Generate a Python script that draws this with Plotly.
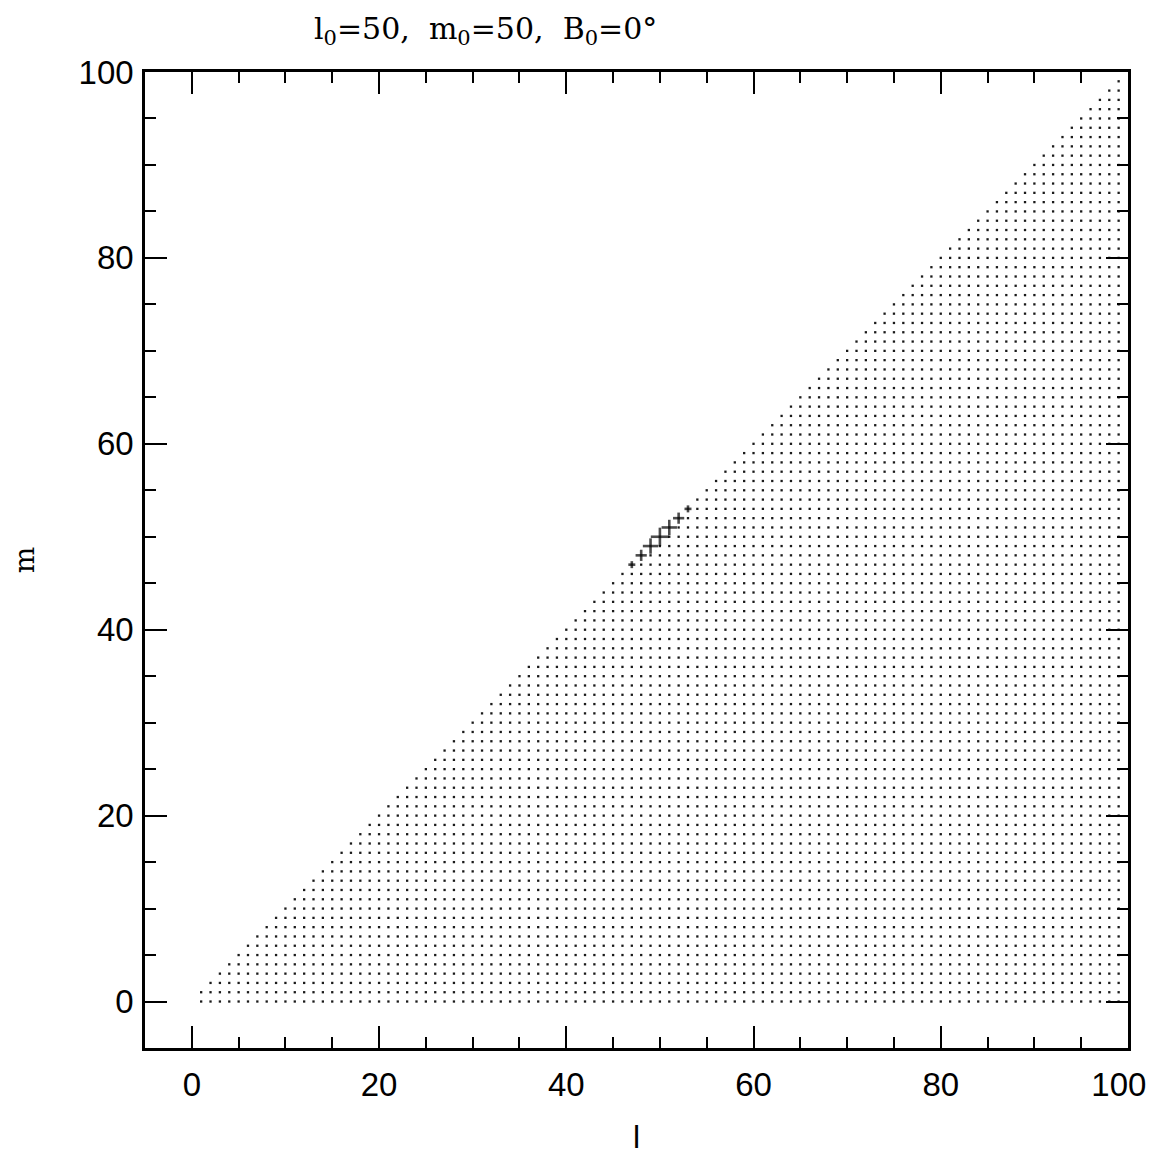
import plotly.graph_objects as go

# Grid of (l, m) modes shown as dots
l_values = list(range(1, 100))          # harmonic degree l
m_max_per_l = list(range(1, 100))       # highest m shown for each l (m <= l)

# Highlighted modes (crosses) near l0=50, m0=50
cross_l = [47, 48, 49, 50, 51, 52, 53]
cross_m = [47, 48, 49, 50, 51, 52, 53]
cross_size = [5, 8, 11, 13, 11, 8, 5]

dot_l, dot_m = [], []
for l, mmax in zip(l_values, m_max_per_l):
    for m in range(0, mmax + 1):
        if (l, m) in zip(cross_l, cross_m):
            continue
        dot_l.append(l)
        dot_m.append(m)

x_ticks = [0, 20, 40, 60, 80, 100]
x_ticktext = ["0", "20", "40", "60", "80", "100\u00a0\u00a0"]
y_ticks = [0, 20, 40, 60, 80, 100]
y_ticktext = ["0", "20", "40", "60", "80", "100"]

fig = go.Figure()
fig.add_trace(go.Scatter(
    x=dot_l, y=dot_m, mode="markers",
    marker=dict(size=2.3, color="#1a1a1a", symbol="square", line=dict(width=0)),
    hoverinfo="skip", showlegend=False))
for sym in ["line-ew", "line-ns"]:
    fig.add_trace(go.Scatter(
        x=cross_l, y=cross_m, mode="markers",
        marker=dict(size=cross_size, color="black", symbol=sym,
                    line=dict(width=2.6, color="black")),
        showlegend=False))

sans = "Liberation Sans, Arial, sans-serif"
serif = "DejaVu Serif, serif"

axis_common = dict(
    showline=True, mirror="allticks", linecolor="black", linewidth=2.5,
    ticks="inside", ticklen=22, tickwidth=2, tickcolor="black",
    showgrid=False, zeroline=False, automargin=False,
    ticklabeloverflow="allow",
    tickfont=dict(family=sans, size=33, color="black"),
    minor=dict(ticks="inside", ticklen=11, tickwidth=1.5, tickcolor="black", dtick=5, showgrid=False),
)

fig.update_xaxes(range=[-5, 100], tickvals=x_ticks, ticktext=x_ticktext,
                 ticklabelstandoff=6,
                 title=dict(text="l", font=dict(family=sans, size=32, color="black"), standoff=28),
                 **axis_common)
fig.update_yaxes(range=[-5, 100], tickvals=y_ticks, ticktext=y_ticktext,
                 ticklabelstandoff=2,
                 title=dict(text="m", font=dict(family=serif, size=28, color="black"), standoff=50),
                 **axis_common)

# page adds ~8px offset; figure sized so the plot area lands on the reference frame
W, H = 1152, 1147
ml, mr, mt, mb = 137, 32, 64, 107
pw, ph = W - ml - mr, H - mt - mb

fig.add_annotation(
    text="l<sub>0</sub>=50,\u00a0\u00a0m<sub>0</sub>=50,\u00a0\u00a0B<sub>0</sub>=0°",
    x=(477 - ml) / pw, y=((H - 22) - mb) / ph, xref="paper", yref="paper",
    xanchor="center", yanchor="middle", showarrow=False,
    font=dict(family=serif, size=30, color="black"))

fig.update_layout(
    width=W, height=H,
    margin=dict(l=ml, r=mr, t=mt, b=mb),
    plot_bgcolor="white", paper_bgcolor="white",
)

fig.write_html("out.html")
